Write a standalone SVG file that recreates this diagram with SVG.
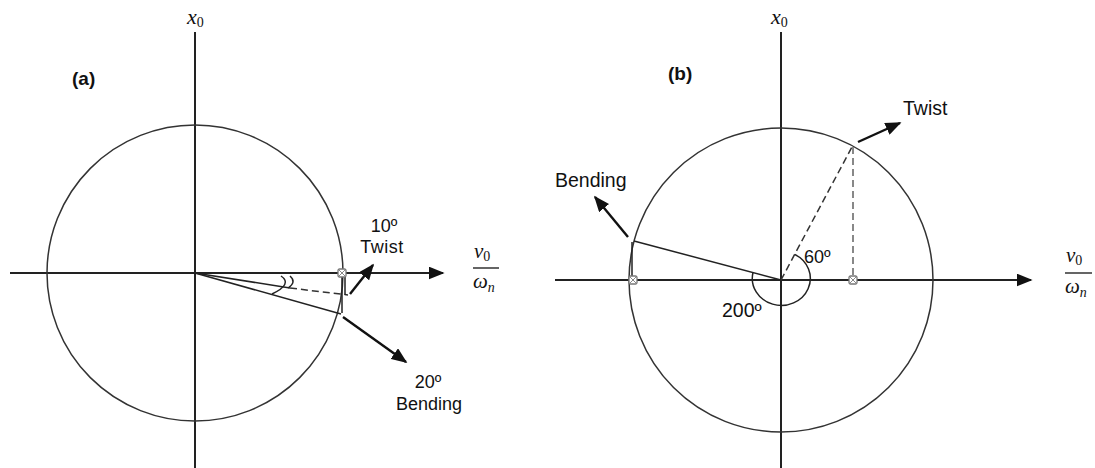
<svg xmlns="http://www.w3.org/2000/svg" width="1095" height="468" viewBox="0 0 1095 468">
<style>
.ax{stroke:#222;stroke-width:2;fill:none}
.circ{stroke:#333;stroke-width:1.5;fill:none}
.ln{stroke:#222;stroke-width:1.5;fill:none}
.arr{stroke:#111;stroke-width:2.4;fill:none}
.dash{stroke:#333;stroke-width:1.5;fill:none;stroke-dasharray:7 4}
.gdash{stroke:#888;stroke-width:2;fill:none;stroke-dasharray:7 4}
.lbl{font-family:"Liberation Sans",Arial,sans-serif;fill:#111}
.math{font-family:"Liberation Serif","DejaVu Serif",serif;fill:#111;font-style:italic}
.sub{font-style:normal}
.bold{font-family:"Liberation Sans",Arial,sans-serif;font-weight:bold;fill:#111}
</style>
<defs>
<marker id="ahb" viewBox="0 0 10 10" refX="9" refY="5" markerWidth="16" markerHeight="13" markerUnits="userSpaceOnUse" orient="auto" preserveAspectRatio="none">
<path d="M0,0 L10,5 L0,10 z" fill="#111"/>
</marker>
<g id="pt">
<rect x="-4" y="-4" width="8" height="8" rx="1.5" fill="#fff" stroke="#777" stroke-width="1.3"/>
<path d="M-3,-3 L3,3 M3,-3 L-3,3" stroke="#888" stroke-width="1"/>
</g>
</defs>

<!-- Panel (a) -->
<g id="panel-a-axes">
<line class="ax" x1="195" y1="32" x2="195" y2="468"/>
<line class="ax" x1="10" y1="273" x2="443" y2="273" marker-end="url(#ahb)"/>
<circle class="circ" cx="195" cy="273" r="148"/>
</g>
<g id="panel-a-connectors">
<line class="ln" x1="195" y1="273" x2="341" y2="314"/>
<line class="ln" x1="195" y1="273" x2="290" y2="288"/>
<line class="dash" x1="290" y1="288" x2="348" y2="295"/>
<line class="ln" x1="342" y1="277" x2="342" y2="313" stroke-width="1"/>
<line class="ln" x1="345" y1="277" x2="345" y2="295" stroke-width="1"/>
<path class="ln" d="M281,276 Q293,284 272,294" stroke-width="1.2"/>
<path class="ln" d="M290,276 Q297,282 288,288" stroke-width="1.2"/>
<line class="arr" x1="350" y1="294" x2="373" y2="265" marker-end="url(#ahb)"/>
<line class="arr" x1="343" y1="317" x2="406" y2="362" marker-end="url(#ahb)"/>
<use href="#pt" x="342" y="273"/>
</g>
<g id="panel-a-labels">
<text class="bold" x="72" y="85" font-size="19">(a)</text>
<text class="math" x="187" y="24" font-size="22">x<tspan class="sub" font-size="14" dy="3">0</tspan></text>
<text class="lbl" x="384" y="232" font-size="18" text-anchor="middle">10º</text>
<text class="lbl" x="382" y="253" font-size="18" text-anchor="middle" letter-spacing="0.5">Twist</text>
<text class="lbl" x="428" y="388" font-size="18" text-anchor="middle">20º</text>
<text class="lbl" x="429" y="410" font-size="18" text-anchor="middle">Bending</text>
<text class="math" x="474" y="258" font-size="21">v<tspan class="sub" font-size="14" dy="3">0</tspan></text>
<line x1="473" y1="268" x2="499" y2="268" stroke="#111" stroke-width="1.3"/>
<text class="math" x="473" y="288" font-size="21">ω<tspan font-size="14" dy="4">n</tspan></text>
</g>

<!-- Panel (b) -->
<g id="panel-b-axes">
<line class="ax" x1="781" y1="32" x2="781" y2="468"/>
<line class="ax" x1="555" y1="280" x2="1031" y2="280" marker-end="url(#ahb)"/>
<circle class="circ" cx="781" cy="280" r="152"/>
</g>
<g id="panel-b-connectors">
<line class="dash" x1="781" y1="280" x2="853" y2="145"/>
<line class="gdash" x1="853" y1="147" x2="853" y2="278"/>
<line class="ln" x1="781" y1="280" x2="634" y2="241"/>
<line class="ln" x1="632" y1="242" x2="632" y2="280" stroke-width="1"/>
<path class="ln" d="M794.6,254.4 A29,27 0 1 1 753,272.5" stroke-width="1.2"/>
<line class="arr" x1="858" y1="142" x2="900" y2="123" marker-end="url(#ahb)"/>
<line class="arr" x1="628" y1="237" x2="595" y2="197" marker-end="url(#ahb)"/>
<use href="#pt" x="853" y="280"/>
<use href="#pt" x="633" y="280"/>
</g>
<g id="panel-b-labels">
<text class="bold" x="668" y="80" font-size="19">(b)</text>
<text class="math" x="771" y="24" font-size="22">x<tspan class="sub" font-size="14" dy="3">0</tspan></text>
<text class="lbl" x="903" y="115" font-size="19.5">Twist</text>
<text class="lbl" x="555" y="187" font-size="19.5">Bending</text>
<text class="lbl" x="804" y="263" font-size="18">60º</text>
<text class="lbl" x="722" y="317" font-size="19.5">200º</text>
<text class="math" x="1066" y="262" font-size="21">v<tspan class="sub" font-size="14" dy="3">0</tspan></text>
<line x1="1065" y1="273" x2="1092" y2="273" stroke="#111" stroke-width="1.3"/>
<text class="math" x="1065" y="293" font-size="21">ω<tspan font-size="14" dy="4">n</tspan></text>
</g>
</svg>
